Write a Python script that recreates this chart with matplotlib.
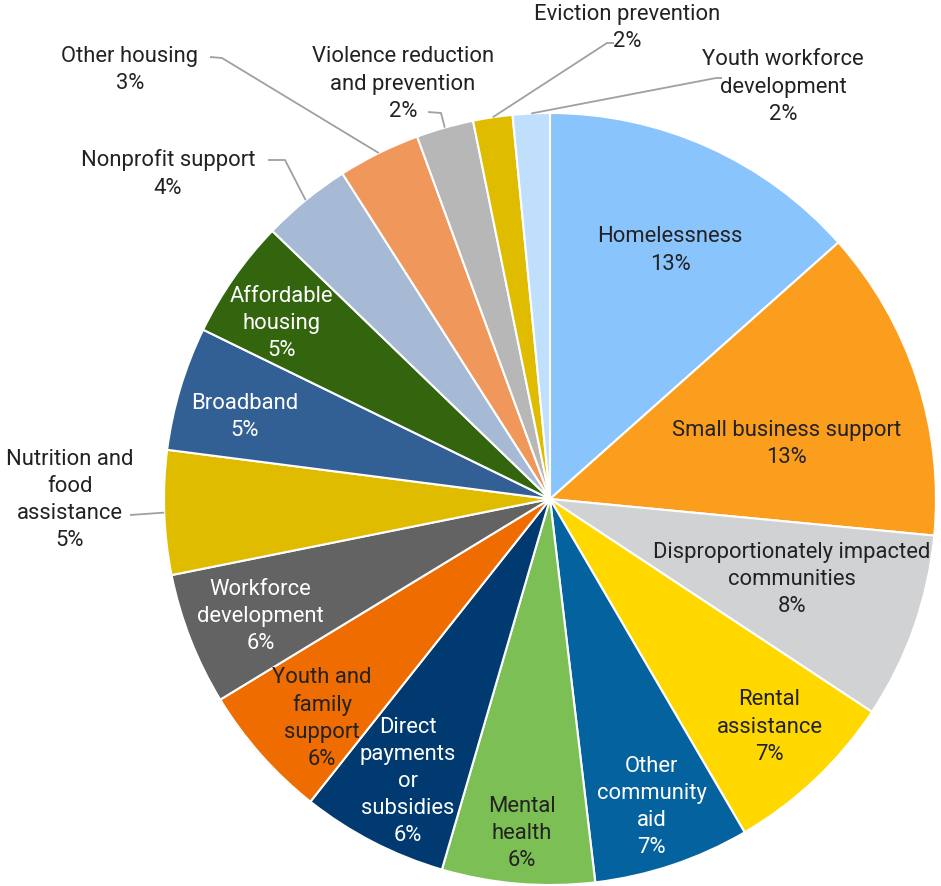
import matplotlib
matplotlib.use("Agg")
import matplotlib.pyplot as plt
import numpy as np

# ---------------- data ----------------
categories = [
    "Homelessness", "Small business support", "Disproportionately impacted\ncommunities",
    "Rental\nassistance", "Other\ncommunity\naid", "Mental\nhealth",
    "Direct\npayments\nor\nsubsidies", "Youth and\nfamily\nsupport", "Workforce\ndevelopment",
    "Nutrition and\nfood\nassistance", "Broadband", "Affordable\nhousing",
    "Nonprofit support", "Other housing", "Violence reduction\nand prevention",
    "Eviction prevention", "Youth workforce\ndevelopment",
]
shares = [13.45, 13.1, 7.8, 7.3, 6.55, 6.4, 6.15, 5.65, 5.55, 5.2, 5.2, 5.0,
          3.75, 3.45, 2.4, 1.65, 1.55]
colors = ["#8AC4FC", "#FB9E1E", "#D0D2D4", "#FFD800", "#04629F", "#7CBF54",
          "#003A70", "#EF6C00", "#636363", "#E0BC00", "#336094", "#33650F",
          "#A6BAD6", "#F0985B", "#B7B7B7", "#E0BC00", "#BFDFFD"]
text_colors = ["#222222", "#222222", "#222222", "#222222", "white", "#222222",
               "white", "#222222", "white", "#222222", "white", "white",
               "#222222", "#222222", "#222222", "#222222", "#222222"]

# ---------------- layout ----------------
W, H = 941, 886
CX, CY_PX, R = 550, 499, 386
FS = 15.8
LS = 1.38
plt.rcParams['font.family'] = ['Roboto', 'DejaVu Sans']

fig = plt.figure(figsize=(W / 100, H / 100), dpi=100)
ax = fig.add_axes([0, 0, 1, 1])
ax.axis('off')

def Y(py):
    return H - py

CY = Y(CY_PX)

wedges, _ = ax.pie(shares, colors=colors, startangle=90, counterclock=False,
                   center=(CX, CY), radius=R, normalize=True,
                   wedgeprops=dict(edgecolor="white", linewidth=1.5))
ax.set_xlim(0, W)
ax.set_ylim(0, H)
ax.set_aspect('equal')

total = sum(shares)
pcts = [f"{round(v / total * 100):d}%" for v in shares]

def pt(a_deg, r):
    a = np.radians(a_deg)
    return CX + r * np.sin(a), CY + r * np.cos(a)

# mid angles, measured clockwise from 12 o'clock
cum = np.cumsum([0] + shares[:-1])
mids = [(c + v / 2) / total * 360 for c, v in zip(cum, shares)]

# inside labels: (radius fraction, angle offset)
inside = {0: (0.715, 1.6), 1: (0.63, 5.0), 2: (0.66, -1.0), 3: (0.82, -0.5),
          4: (0.84, 0.2), 5: (0.87, 0.0), 6: (0.82, -0.6), 7: (0.82, -2.4),
          8: (0.81, -0.8), 10: (0.82, -1.7), 11: (0.83, -1.8)}
for i, (rf, da) in inside.items():
    x, y = pt(mids[i] + da, rf * R)
    ax.text(x, y, categories[i] + "\n" + pcts[i], ha="center", va="center",
            fontsize=FS, color=text_colors[i], linespacing=LS)

# outside labels: text centre (px), elbow (px), line end (px)
outside = {
    9: ((70, 500), (130, 515), None),
    12: ((168, 174), (285, 160), (268, 160)),
    13: ((130, 70), (222, 58), (210, 57)),
    14: ((403, 84), (441, 113), (428, 112)),
    15: ((627, 28), (607, 43), (614, 43)),
    16: ((783, 87), (716, 78), (722, 78)),
}
line_col = "#A0A0A0"
for i, (tpos, elbow, lend) in outside.items():
    ax.text(tpos[0], Y(tpos[1]), categories[i] + "\n" + pcts[i], ha="center",
            va="center", fontsize=FS, color=text_colors[i], linespacing=LS)
    x0, y0 = pt(mids[i], R)
    xs = [x0, elbow[0]]
    ys = [y0, Y(elbow[1])]
    if lend is not None:
        xs.append(lend[0])
        ys.append(Y(lend[1]))
    ax.plot(xs, ys, color=line_col, lw=1.3, solid_capstyle="butt")

fig.savefig("out.png", dpi=100, facecolor="white")
